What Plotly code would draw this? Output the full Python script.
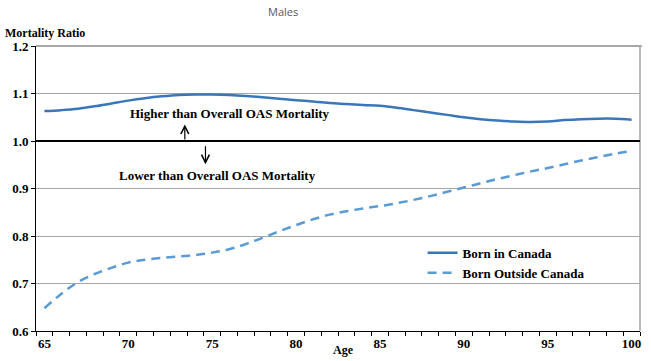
import plotly.graph_objects as go

ages = list(range(65, 101))
born_in_canada = [1.063, 1.065, 1.068, 1.073, 1.079, 1.085, 1.090, 1.094, 1.097, 1.098,
                  1.098, 1.097, 1.095, 1.092, 1.089, 1.086, 1.083, 1.080, 1.078, 1.076,
                  1.074, 1.070, 1.065, 1.060, 1.055, 1.050, 1.046, 1.043, 1.041, 1.040,
                  1.041, 1.044, 1.046, 1.047, 1.047, 1.045]
born_outside_canada = [0.648, 0.678, 0.703, 0.720, 0.733, 0.744, 0.750, 0.754, 0.757, 0.760,
                       0.765, 0.772, 0.783, 0.796, 0.810, 0.823, 0.835, 0.845, 0.852, 0.858,
                       0.863, 0.869, 0.876, 0.884, 0.893, 0.902, 0.911, 0.920, 0.928, 0.936,
                       0.943, 0.951, 0.959, 0.966, 0.973, 0.979]
x_tick_labels = [65, 70, 75, 80, 85, 90, 95, 100]
y_ticks = [0.6, 0.7, 0.8, 0.9, 1.0, 1.1, 1.2]

SERIF = "'Liberation Serif', 'Times New Roman', Times, serif"

fig = go.Figure()
fig.add_trace(go.Scatter(x=ages, y=born_in_canada, mode="lines", name="Born in Canada",
                         line=dict(color="#3A76BA", width=2.5, shape="spline")))
fig.add_trace(go.Scatter(x=ages, y=born_outside_canada, mode="lines", name="Born Outside Canada",
                         line=dict(color="#5B9BD5", width=2.5, shape="spline", dash="9px,6px")))

fig.update_layout(
    width=651, height=361,
    margin=dict(l=36, r=10, t=46, b=28),
    plot_bgcolor="white", paper_bgcolor="white",
    showlegend=True,
    legend=dict(x=0.64, y=0.327, xanchor="left", yanchor="top",
                font=dict(family=SERIF, size=13, color="black", weight="bold"),
                bgcolor="rgba(0,0,0,0)", tracegroupgap=0),
    xaxis=dict(range=[64.5, 100.5], tickmode="array", tickvals=x_tick_labels,
               ticktext=[str(v) for v in x_tick_labels], ticks="",
               tickfont=dict(family=SERIF, size=13, color="black", weight="bold"),
               showgrid=False, zeroline=False, showline=True, linecolor="black", linewidth=1,
               minor=dict(tickmode="linear", tick0=64.5, dtick=1, ticks="outside",
                          ticklen=4, tickcolor="black", tickwidth=1, showgrid=False)),
    yaxis=dict(range=[0.6, 1.2], tickmode="array", tickvals=y_ticks,
               ticktext=[f"{v:.1f}" for v in y_ticks], ticks="outside", ticklen=4,
               tickcolor="black",
               tickfont=dict(family=SERIF, size=13, color="black", weight="bold"),
               showgrid=True, gridcolor="#A6A6A6", gridwidth=1, zeroline=False,
               showline=True, linecolor="black", linewidth=1),
)

# plot border (top / right) and the 1.0 reference line
fig.add_shape(type="line", xref="paper", yref="paper", x0=1, x1=1, y0=0, y1=1,
              line=dict(color="#A6A6A6", width=1.5))
fig.add_shape(type="line", xref="paper", yref="paper", x0=0, x1=1.003, y0=1, y1=1,
              line=dict(color="#A6A6A6", width=2))
fig.add_shape(type="line", xref="paper", yref="y", x0=0, x1=1, y0=1.0, y1=1.0,
              line=dict(color="black", width=2))

fig.add_annotation(text="Males", xref="paper", yref="paper", x=(283 - 36) / 605, y=1.12,
                   xanchor="center", yanchor="middle", showarrow=False,
                   font=dict(family="Open Sans", size=11, color="#595959"))
fig.add_annotation(text="Mortality Ratio", xref="paper", yref="paper", x=-33 / 605,
                   y=(333 - 33) / 287, xanchor="left", yanchor="middle", showarrow=False,
                   font=dict(family=SERIF, size=12, color="black", weight="bold"))
fig.add_annotation(text="Age", xref="paper", yref="paper", x=(344 - 36) / 605,
                   y=-(352 - 333) / 287, xanchor="center", yanchor="middle", showarrow=False,
                   font=dict(family=SERIF, size=12, color="black", weight="bold"))
fig.add_annotation(text="Higher than Overall OAS Mortality", xref="x", yref="y",
                   x=76.05, y=1.058, xanchor="center", yanchor="middle", showarrow=False,
                   font=dict(family=SERIF, size=13, color="black", weight="bold"))
fig.add_annotation(text="Lower than Overall OAS Mortality", xref="x", yref="y",
                   x=75.33, y=0.927, xanchor="center", yanchor="middle", showarrow=False,
                   font=dict(family=SERIF, size=13, color="black", weight="bold"))
# arrows
fig.add_annotation(x=73.37, y=1.035, ax=73.37, ay=1.0, xref="x", yref="y", axref="x", ayref="y",
                   text="", showarrow=True, arrowhead=5, arrowsize=1.3, arrowwidth=1.2,
                   arrowcolor="black")
fig.add_annotation(x=74.6, y=0.951, ax=74.6, ay=0.992, xref="x", yref="y", axref="x", ayref="y",
                   text="", showarrow=True, arrowhead=5, arrowsize=1.3, arrowwidth=1.2,
                   arrowcolor="black")

fig.write_html("out.html", config={"displayModeBar": False},
               post_script="document.body.style.margin='0';")
